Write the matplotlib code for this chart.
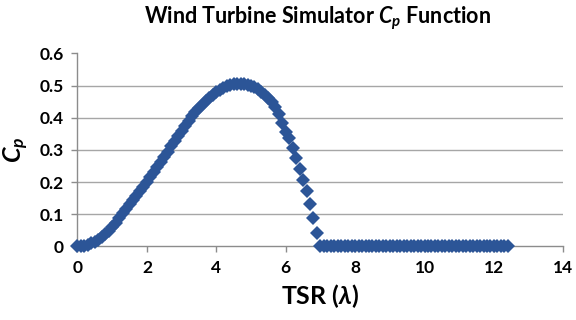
import matplotlib
matplotlib.use("Agg")
import matplotlib.pyplot as plt
import numpy as np
from matplotlib.ticker import FuncFormatter

plt.rcParams["font.family"] = ["Lato", "DejaVu Sans"]
plt.rcParams["font.weight"] = "bold"
plt.rcParams["mathtext.fontset"] = "custom"
plt.rcParams["mathtext.it"] = "Lato:italic:bold"
plt.rcParams["mathtext.rm"] = "Lato:bold"

# tip speed ratio grid, 0.1 step up to 12.4
tsr = np.round(np.arange(0, 12.45, 0.1), 1)

# Cp, one value per tsr point
cp_rise = [0.000, 0.001, 0.003, 0.006, 0.010, 0.015, 0.021, 0.029, 0.038, 0.048,
           0.060, 0.074, 0.089, 0.104, 0.117, 0.131, 0.144, 0.158, 0.172, 0.186,
           0.200, 0.215, 0.231, 0.247, 0.263, 0.279, 0.295, 0.311, 0.327, 0.343,
           0.359, 0.375, 0.390, 0.404, 0.417, 0.429, 0.441, 0.452, 0.462, 0.471,
           0.479, 0.486, 0.492, 0.497, 0.501, 0.504, 0.506, 0.506, 0.505, 0.503,
           0.499, 0.494, 0.488, 0.481, 0.472, 0.461, 0.448, 0.432, 0.412]
cp_fall = [0.384, 0.357, 0.336, 0.305, 0.276, 0.240, 0.207, 0.172, 0.132, 0.089,
           0.043, 0.000]
cp_flat = [0.0, 0.0, 0.0, 0.0, 0.0, 0.0, 0.0, 0.0, 0.0, 0.0,
           0.0, 0.0, 0.0, 0.0, 0.0, 0.0, 0.0, 0.0, 0.0, 0.0,
           0.0, 0.0, 0.0, 0.0, 0.0, 0.0, 0.0, 0.0, 0.0, 0.0,
           0.0, 0.0, 0.0, 0.0, 0.0, 0.0, 0.0, 0.0, 0.0, 0.0,
           0.0, 0.0, 0.0, 0.0, 0.0, 0.0, 0.0, 0.0, 0.0, 0.0,
           0.0, 0.0, 0.0, 0.0]
cp = np.array(cp_rise + cp_fall + cp_flat)

xticks = [0, 2, 4, 6, 8, 10, 12, 14]
yticks = [0, 0.1, 0.2, 0.3, 0.4, 0.5, 0.6]

fig = plt.figure(figsize=(5.76, 3.2), dpi=100)
ax = fig.add_axes([0.1345, 0.2297, 0.8435, 0.6037])

for y in yticks[1:-1]:
    ax.axhline(y, color="#a6a6a6", lw=1.0, zorder=1)

ax.plot(tsr, cp, ls="none", marker="D", ms=7.5, color="#2c5597",
        markeredgewidth=0, clip_on=False, zorder=3)

ax.set_xlim(0, 14)
ax.set_ylim(0, 0.6)
ax.set_xticks(xticks)
ax.set_yticks(yticks)
ax.yaxis.set_major_formatter(FuncFormatter(lambda v, p: "0" if v == 0 else f"{v:.1f}"))

for s in ["top", "right"]:
    ax.spines[s].set_visible(False)
for s in ["left", "bottom"]:
    ax.spines[s].set_color("#8c8c8c")
    ax.spines[s].set_linewidth(1.0)
ax.tick_params(direction="out", length=4, width=1, color="#8c8c8c",
               labelsize=12.5, pad=6)
for lab in ax.get_xticklabels() + ax.get_yticklabels():
    lab.set_fontweight("bold")

fig.text(0.552, 0.942, r"Wind Turbine Simulator $C_p$ Function", ha="center",
         va="center", fontsize=15.5, fontweight="bold")
ax.set_xlabel(r"TSR ($\lambda$)", fontsize=18, fontweight="bold", labelpad=4)
ax.set_ylabel(r"$C_p$", fontsize=18, labelpad=6)

fig.savefig("out.png", dpi=100)
